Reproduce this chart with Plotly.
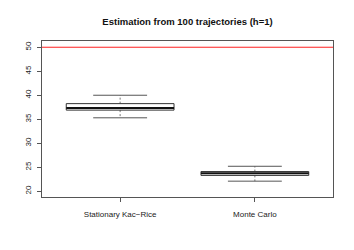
import plotly.graph_objects as go

categories = ["Stationary Kac\u2212Rice", "Monte Carlo"]
lower_whisker = [35.3, 22.1]
q1 = [36.9, 23.3]
median = [37.35, 23.75]
q3 = [38.25, 24.1]
upper_whisker = [40.0, 25.2]
true_value = 50
y_ticks = [20, 25, 30, 35, 40, 45, 50]

BOX_W = 0.8
CAP_W = 0.4
FRAME = "#555555"
OFF = 8  # page body margin compensation

fig = go.Figure()
for i, cat in enumerate(categories):
    x = i + 1
    fig.add_trace(go.Scatter(x=[x, x, None, x, x],
                             y=[q3[i], upper_whisker[i], None, q1[i], lower_whisker[i]],
                             mode="lines", line=dict(color="#555", width=0.8, dash="2px,2px"),
                             hoverinfo="skip", showlegend=False))
    fig.add_trace(go.Scatter(x=[x - CAP_W / 2, x + CAP_W / 2, None, x - CAP_W / 2, x + CAP_W / 2],
                             y=[upper_whisker[i]] * 2 + [None] + [lower_whisker[i]] * 2,
                             mode="lines", line=dict(color="#555", width=1),
                             hoverinfo="skip", showlegend=False))
    fig.add_trace(go.Scatter(x=[x - BOX_W / 2, x + BOX_W / 2, x + BOX_W / 2, x - BOX_W / 2, x - BOX_W / 2],
                             y=[q1[i], q1[i], q3[i], q3[i], q1[i]],
                             mode="lines", fill="toself", fillcolor="white",
                             line=dict(color="#333", width=1),
                             hoverinfo="skip", showlegend=False))
    fig.add_trace(go.Scatter(x=[x - BOX_W / 2, x + BOX_W / 2], y=[median[i]] * 2,
                             mode="lines", line=dict(color="#111", width=2),
                             hoverinfo="skip", showlegend=False))

fig.add_shape(type="line", xref="paper", x0=0, x1=1, yref="y", y0=true_value, y1=true_value,
              line=dict(color="#ff2020", width=1))

fig.update_layout(
    width=354, height=250,
    margin=dict(l=42 - OFF, r=21 + OFF, t=41 - OFF, b=53 + OFF),
    paper_bgcolor="white", plot_bgcolor="white",
    font=dict(family="Liberation Sans, Arial, sans-serif", size=8, color="#222"),
    title=dict(text="<b>Estimation from 100 trajectories (h=1)</b>",
               x=0.5, xref="paper", xanchor="center", y=1 - (21.7 - OFF) / 250, yanchor="middle",
               font=dict(size=9.5, color="#111")),
    xaxis=dict(range=[0.42, 2.58], tickvals=[1, 2], ticktext=categories,
               showgrid=False, zeroline=False, showline=True, mirror=True,
               linecolor=FRAME, linewidth=1, ticks="outside", ticklen=4, tickcolor=FRAME,
               ticklabelstandoff=5),
    yaxis=dict(range=[18.8, 51.3], tickvals=y_ticks, tickangle=-90,
               showgrid=False, zeroline=False, showline=True, mirror=True,
               linecolor=FRAME, linewidth=1, ticks="outside", ticklen=4, tickcolor=FRAME,
               ticklabelstandoff=3),
)

fig.write_html("out.html")
